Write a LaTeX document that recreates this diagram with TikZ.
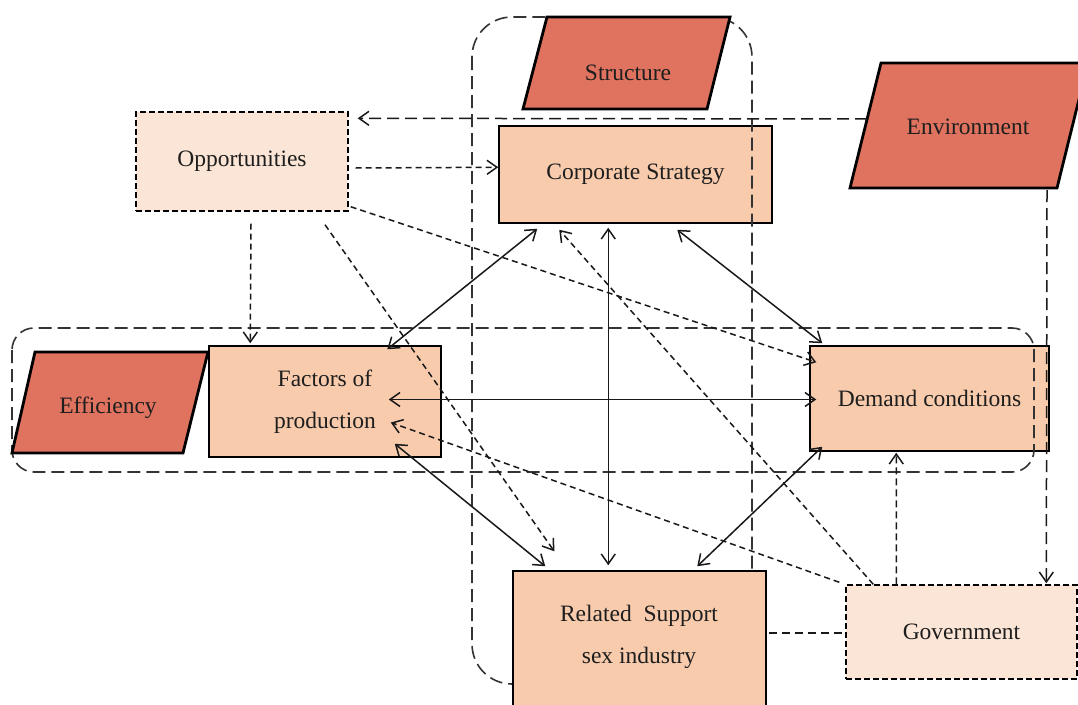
\documentclass[tikz,border=0pt]{standalone}
\usepackage{fontspec}
\setmainfont{Liberation Serif}
\usetikzlibrary{arrows.meta,calc}
\definecolor{parafill}{RGB}{224,115,95}
\definecolor{boxfill}{RGB}{248,203,173}
\definecolor{lightfill}{RGB}{251,229,214}
\definecolor{txt}{RGB}{30,30,30}
\begin{document}
\begin{tikzpicture}[x=1pt,y=-1pt,
  font=\fontsize{23.5}{42}\selectfont,
  every node/.style={text=txt, align=center},
  box/.style={draw=black, fill=boxfill, line width=1.5pt, inner sep=0pt},
  optbox/.style={draw=black, fill=lightfill, line width=1.4pt, dash pattern=on 6pt off 3pt, inner sep=0pt},
  para/.style={draw=black, fill=parafill, line width=2.8pt, line join=miter},
  grp/.style={draw=black!80, line width=1.6pt, dash pattern=on 13pt off 6pt},
  tip/.tip={Straight Barb[length=10pt,width=14pt]},
  solidarr/.style={draw=black!90, line width=1.5pt, tip-tip},
  dasharr/.style={draw=black!90, line width=1.5pt, dash pattern=on 6pt off 4pt, -tip},
  longarr/.style={draw=black!90, line width=1.5pt, dash pattern=on 12pt off 6pt, -tip},
  medarr/.style={draw=black!90, line width=1.5pt, dash pattern=on 7pt off 4pt, -tip},
  plainlink/.style={draw=black!90, line width=1.5pt, dash pattern=on 8pt off 5pt}
]
\clip (0,0) rectangle (1078,704);
\fill[white] (0,0) rectangle (1078,704);

% main boxes
\node[box, minimum width=273pt, minimum height=97pt] (cs) at (635.5,174.5) {Corporate Strategy};
\node[optbox, minimum width=212pt, minimum height=99pt] (opp) at (242,161.5) {Opportunities};
\node[box, minimum width=232pt, minimum height=111pt] (fac) at (325,401.5) {Factors of\\production};
\node[box, minimum width=239pt, minimum height=105pt] (dem) at (929.5,398.5) {Demand conditions};

% dashed groups
\draw[grp, rounded corners=40pt] (472,17) rectangle (752,684);
\draw[grp, rounded corners=22pt] (12,328) rectangle (1034,472);

% front boxes
\node[box, minimum width=253pt, minimum height=140pt] (rel) at (639.5,641) {};
\node (reltxt) at (639,637) {Related~ Support\\sex industry};
\node[optbox, minimum width=231pt, minimum height=94pt] (gov) at (961.5,632) {Government};

% parallelograms
\draw[para] (523,109) -- (547,17) -- (730,17) -- (707,109) -- cycle;
\node (str) at (628,73) {Structure};
\draw[para] (850,188) -- (881,63) -- (1088,63) -- (1057,188) -- cycle;
\node (env) at (968,127) {Environment};
\draw[para] (12,453) -- (35,352) -- (208,352) -- (183,453) -- cycle;
\node (eff) at (108,408) {Efficiency};
\coordinate (envL) at (867,119);
\coordinate (envB) at (1047,190);

% solid double arrows
\draw[solidarr] ($(cs.south west)+(39,5)$) -- ($(fac.north west)+(179,4)$);
\draw[solidarr] ($(cs.south west)+(110,4)$) -- ($(rel.north west)+(96,-5)$);
\draw[solidarr] ($(cs.south west)+(179,6)$) -- ($(dem.north west)+(13,-2)$);
\draw[solidarr] ($(fac.east)+(-53,-2)$) -- ($(dem.west)+(7,1)$);
\draw[solidarr] ($(fac.south east)+(-47,-14)$) -- ($(rel.north west)+(33,-4)$);
\draw[solidarr] ($(dem.south west)+(13,-5)$) -- ($(rel.north west)+(185,-4)$);

% dashed arrows
\draw[dasharr] ($(opp.east)+(7,6.5)$) -- ($(cs.north west)+(0,42)$);
\draw[dasharr] ($(opp.south)+(9,12)$) -- ($(fac.north west)+(42,-2)$);
\draw[dasharr] ($(opp.south east)+(2,-5)$) -- ($(dem.north west)+(7,17)$);
\draw[dasharr] ($(opp.south)+(83,13)$) -- ($(rel.north west)+(42,-19)$);
\draw[longarr] (envL) -- ($(opp.north east)+(9,7)$);
\draw[longarr] (envB) -- ($(gov.north west)+(201,-1)$);
\draw[medarr] ($(gov.north west)+(51,0)$) -- ($(dem.south west)+(87,1)$);
\draw[dasharr] ($(gov.north west)+(28,0)$) -- ($(cs.south west)+(61,6)$);
\draw[dasharr] ($(gov.north west)+(-6,-2)$) -- ($(fac.east)+(-51,21)$);
\draw[plainlink] ($(rel.east)+(2,-8)$) -- ($(gov.west)+(0,1)$);
\end{tikzpicture}
\end{document}
